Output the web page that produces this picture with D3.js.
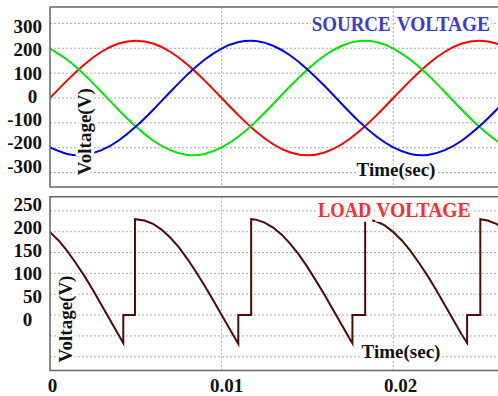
<!DOCTYPE html>
<html>
<head>
<meta charset="utf-8">
<script src="https://cdn.jsdelivr.net/npm/d3@7"></script>
<style>
  body { margin: 0; background: #fff; }
  svg text { font-family: "Liberation Serif", "Times New Roman", serif; font-weight: bold; }
</style>
</head>
<body>
<svg id="chart" width="498" height="396"></svg>
<script>
"use strict";

// ---- source voltage, every 1 ms ----
var sourceTime = [0, 0.001, 0.002, 0.003, 0.004, 0.005, 0.006, 0.007, 0.008, 0.009,
  0.010, 0.011, 0.012, 0.013, 0.014, 0.015, 0.016, 0.017, 0.018, 0.019,
  0.020, 0.021, 0.022, 0.023, 0.024, 0.025, 0.026, 0.027];
var phaseA = [0, 71, 135, 186, 219, 230, 219, 186, 135, 71,
  0, -71, -135, -186, -219, -230, -219, -186, -135, -71,
  0, 71, 135, 186, 219, 230, 219, 186];
var phaseB = [199, 154, 94, 24, -48, -115, -171, -210, -229, -225,
  -199, -154, -94, -24, 48, 115, 171, 210, 229, 225,
  199, 154, 94, 24, -48, -115, -171, -210];
var phaseC = [-199, -225, -229, -210, -171, -115, -48, 24, 94, 154,
  199, 225, 229, 210, 171, 115, 48, -24, -94, -154,
  -199, -225, -229, -210, -171, -115, -48, 24];

// ---- load voltage (chopped), time / volts ----
var loadTime = [0, 0.0005, 0.001, 0.0015, 0.002, 0.0025, 0.003, 0.0035, 0.004, 0.00427,
  0.00427, 0.00495, 0.00495, 0.0055, 0.006, 0.0065, 0.007, 0.0075, 0.008, 0.0085,
  0.009, 0.0095, 0.010, 0.0105, 0.01097, 0.01097, 0.01172, 0.01172, 0.012, 0.0125,
  0.013, 0.0135, 0.014, 0.0145, 0.015, 0.0155, 0.016, 0.0165, 0.017, 0.0175,
  0.01762, 0.01762, 0.01836, 0.01836, 0.019, 0.0195, 0.020, 0.0205, 0.021, 0.0215,
  0.022, 0.0225, 0.023, 0.0235, 0.024, 0.0243, 0.0243, 0.02507, 0.02507, 0.0255,
  0.026, 0.0265];
var loadVolt = [199, 179, 154, 125, 94, 60, 24, -12, -48, -67,
  0, 0, 230, 227, 219, 205, 186, 163, 135, 104,
  71, 36, 0, -36, -69, 0, 0, 230, 229, 222,
  210, 193, 171, 145, 115, 82, 48, 12, -24, -60,
  -68, 0, 0, 230, 225, 215, 199, 179, 154, 125,
  94, 60, 24, -12, -48, -67, 0, 0, 230, 227,
  219, 205];

// ---- ticks / grid ----
var sourceTicks = [300, 200, 100, 0, -100, -200, -300];
var loadTicks = [250, 200, 150, 100, 50, 0];
var loadGrid = [250, 200, 150, 100, 50, 0, -50, -100];
var timeTicks = [0, 0.01, 0.02];
var timeGrid = [0.01, 0.02];
var timeLabels = ["0", "0.01", "0.02"];

var svg = d3.select("#chart");

var x = d3.scaleLinear().domain([0, 0.0261]).range([50, 498]);
var yTop = d3.scaleLinear().domain([-358, 366]).range([187, 7]);
var yBot = d3.scaleLinear().domain([-133, 284]).range([370.5, 196.7]);

// the tick labels in the original sit a little off the grid
var yTopLabel = d3.scaleLinear().domain([-300, 300]).range([172.5, 33]);
var yBotLabel = d3.scaleLinear().domain([0, 250]).range([325.7, 210.7]);
var xLabel = d3.scaleLinear().domain([0, 0.02]).range([52.5, 400.5]);

function panel(id, y, grid) {
  var top = y.range()[1], bottom = y.range()[0];
  svg.append("clipPath").attr("id", id)
    .append("rect")
    .attr("x", 50).attr("y", top)
    .attr("width", 448).attr("height", bottom - top);

  var g = svg.append("g");
  // horizontal grid
  g.selectAll(".hg").data(grid).enter().append("line")
    .attr("x1", 50).attr("x2", 498)
    .attr("y1", d => y(d)).attr("y2", d => y(d))
    .attr("stroke", "#aaa").attr("stroke-dasharray", "2,2");
  // vertical grid
  g.selectAll(".vg").data(timeGrid).enter().append("line")
    .attr("x1", d => x(d)).attr("x2", d => x(d))
    .attr("y1", top).attr("y2", bottom)
    .attr("stroke", "#aaa").attr("stroke-dasharray", "2,2");

  var plot = svg.append("g").attr("clip-path", "url(#" + id + ")");
  return { plot: plot, top: top, bottom: bottom };
}

function frame(p) {
  svg.append("path")
    .attr("d", "M498," + p.top + "H50V" + p.bottom + "H498")
    .attr("fill", "none")
    .attr("stroke", "#666")
    .attr("stroke-width", 1.5);
}

// halo text used for axis titles
function haloText(t, tx, ty, rot, size) {
  svg.append("text")
    .attr("transform", "translate(" + tx + "," + ty + ")" + (rot ? " rotate(-90)" : ""))
    .attr("text-anchor", "middle")
    .attr("font-size", size)
    .attr("fill", "#111")
    .attr("stroke", "#fff")
    .attr("stroke-width", 6)
    .attr("stroke-linejoin", "round")
    .attr("paint-order", "stroke")
    .text(t);
}

// title words with white boxes behind
function title(words, xs, widths, base, color) {
  words.forEach(function(w, i) {
    var g = svg.append("g");
    var r = g.append("rect").attr("fill", "#fff");
    var t = g.append("text")
      .attr("x", xs[i]).attr("y", base)
      .attr("font-size", 21)
      .attr("fill", color)
      .attr("textLength", widths[i])
      .attr("lengthAdjust", "spacingAndGlyphs")
      .text(w);
    var b = t.node().getBBox();
    r.attr("x", b.x - 1).attr("y", b.y).attr("width", b.width + 2).attr("height", b.height);
  });
}

//-------------------- top panel: source voltage --------------------
var pTop = panel("clipTop", yTop, sourceTicks);

var srcLine = function(vals) {
  return d3.line()
    .x((d, i) => x(sourceTime[i]))
    .y(d => yTop(d))
    .curve(d3.curveNatural)(vals);
};

[[phaseA, "#ff0000"], [phaseB, "#00e600"], [phaseC, "#0000ff"]].forEach(function(s) {
  pTop.plot.append("path")
    .attr("d", srcLine(s[0]))
    .attr("fill", "none")
    .attr("stroke", s[1])
    .attr("stroke-width", 2);
});

svg.append("g").selectAll("text").data(sourceTicks).enter().append("text")
  .attr("x", 42)
  .attr("dx", d => d === 0 ? -4.7 : 0)
  .attr("y", d => yTopLabel(d))
  .attr("text-anchor", "end")
  .attr("font-size", 19)
  .attr("fill", "#111")
  .text(d => d);

haloText("Voltage(V)", 91, 131.7, true, 19);
haloText("Time(sec)", 396, 176, false, 19);
title(["SOURCE", "VOLTAGE"], [311.7, 396.7], [79, 93.3], 31, "#3c3cd2");
frame(pTop);

//-------------------- bottom panel: load voltage --------------------
var pBot = panel("clipBot", yBot, loadGrid);

pBot.plot.append("path")
  .datum(loadVolt)
  .attr("d", d3.line()
    .x((d, i) => x(loadTime[i]))
    .y(d => yBot(d)))
  .attr("fill", "none")
  .attr("stroke", "#4d0b0b")
  .attr("stroke-width", 2);

svg.append("g").selectAll("text").data(loadTicks).enter().append("text")
  .attr("x", 42)
  .attr("dx", d => d === 0 ? -9.8 : 0)
  .attr("y", d => yBotLabel(d))
  .attr("text-anchor", "end")
  .attr("font-size", 19)
  .attr("fill", "#111")
  .text(d => d);

haloText("Voltage(V)", 72, 319, true, 19);
haloText("Time(sec)", 401, 357.6, false, 19);
title(["LOAD", "VOLTAGE"], [318, 376.3], [53.3, 94.4], 216.7, "#ff2d2d");
frame(pBot);

// time labels under the bottom panel
svg.append("g").selectAll("text").data(timeTicks).enter().append("text")
  .attr("x", d => xLabel(d))
  .attr("y", 391.5)
  .attr("text-anchor", "middle")
  .attr("font-size", 19)
  .attr("fill", "#111")
  .text((d, i) => timeLabels[i]);
</script>
</body>
</html>
